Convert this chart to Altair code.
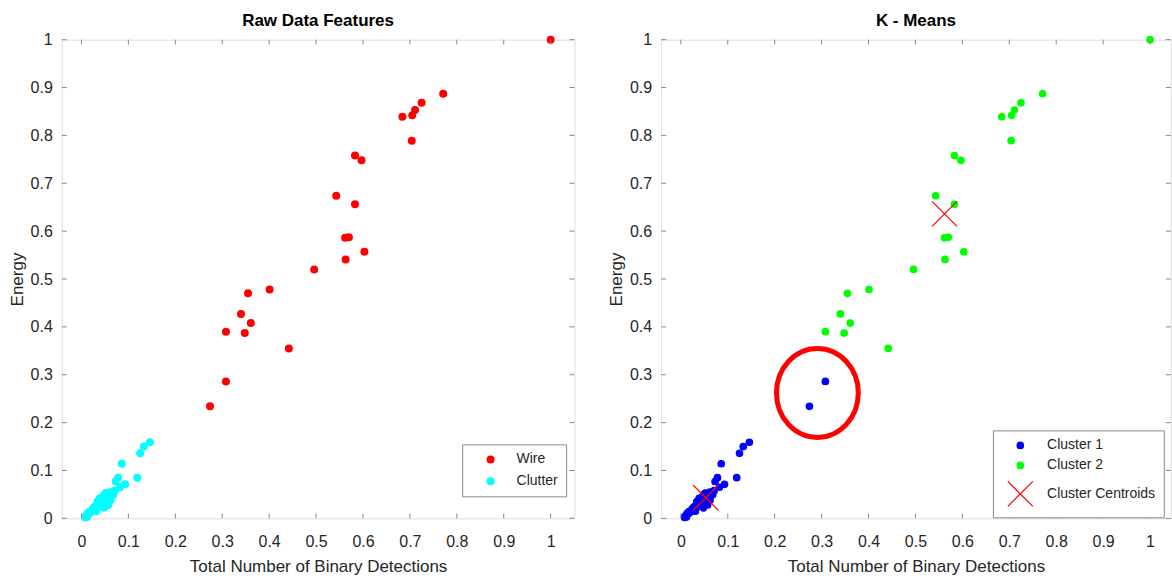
import altair as alt
import pandas as pd

# ---------------- data ----------------
wire_x = [1.000, 0.771, 0.725, 0.711, 0.705, 0.684, 0.704, 0.583, 0.597, 0.543,
          0.583, 0.562, 0.570, 0.603, 0.563, 0.496, 0.401, 0.355, 0.340, 0.361,
          0.308, 0.348, 0.442, 0.308, 0.274]
wire_y = [1.000, 0.887, 0.868, 0.853, 0.842, 0.839, 0.789, 0.758, 0.748, 0.674,
          0.656, 0.586, 0.587, 0.557, 0.541, 0.520, 0.478, 0.470, 0.427, 0.408,
          0.390, 0.387, 0.355, 0.286, 0.234]
# K-means assignment of the wire points (the last two fall in cluster 1)
wire_cluster = ["Cluster 2"] * 23 + ["Cluster 1"] * 2

clutter_x = [0.146, 0.133, 0.125, 0.086, 0.119, 0.078, 0.073, 0.093, 0.082, 0.071,
             0.066, 0.062, 0.058, 0.055, 0.052, 0.048, 0.045, 0.060, 0.064, 0.068,
             0.050, 0.054, 0.046, 0.042, 0.040, 0.036, 0.038, 0.033, 0.030, 0.028,
             0.026, 0.024, 0.021, 0.019, 0.017, 0.015, 0.013, 0.011, 0.009, 0.008,
             0.012, 0.044, 0.050, 0.056, 0.034, 0.039, 0.057, 0.062, 0.048, 0.031]
clutter_y = [0.159, 0.150, 0.136, 0.114, 0.085, 0.085, 0.077, 0.071, 0.065, 0.058,
             0.052, 0.055, 0.050, 0.047, 0.053, 0.049, 0.044, 0.044, 0.047, 0.050,
             0.040, 0.036, 0.035, 0.038, 0.032, 0.030, 0.025, 0.027, 0.022, 0.024,
             0.018, 0.020, 0.015, 0.012, 0.014, 0.009, 0.010, 0.006, 0.004, 0.002,
             0.003, 0.028, 0.030, 0.040, 0.035, 0.042, 0.028, 0.038, 0.022, 0.015]

centroid_x = [0.053, 0.562]
centroid_y = [0.043, 0.636]

highlight_x = [0.291]
highlight_y = [0.262]

tick_values = [0.0, 0.1, 0.2, 0.3, 0.4, 0.5, 0.6, 0.7, 0.8, 0.9, 1.0]

left_classes = ["Wire", "Clutter"]
left_colors = ["#ff0000", "#00ffff"]
right_groups = ["Cluster 1", "Cluster 2", "Cluster Centroids"]
right_colors = ["#0000ff", "#00ff00", "#ff0000"]
right_fills = ["#0000ff", "#00ff00", "transparent"]

# ---------------- styling ----------------
FONT = "Liberation Sans"
FRAME = "#8a8a8a"
TXT = "#262626"
W_L, W_R, H = 513, 510, 479
X_MIN = -0.042
X_PATH = "M-1,-1L1,1M-1,1L1,-1"
ELLIPSE_PATH = "M0,-1A0.92,1,0,1,1,0,1A0.92,1,0,1,1,0,-1Z"

y_scale = alt.Scale(domain=[0, 1], nice=False, zero=False)


def x_scale(width):
    return alt.Scale(domain=[X_MIN, X_MIN + width / 469.5], nice=False, zero=False)


def x_axis():
    return alt.Axis(title="Total Number of Binary Detections", values=tick_values,
                    format=".1~f", grid=False, domain=False, ticks=False, tickSize=0,
                    labelFont=FONT, labelFontSize=16, labelColor=TXT, labelPadding=15,
                    labelFlush=False, labelOverlap=False,
                    titleFont=FONT, titleFontSize=17, titleFontWeight="normal",
                    titleColor=TXT, titlePadding=9)


def y_axis():
    return alt.Axis(title="Energy", values=tick_values, format=".1~f", grid=False,
                    domain=False, ticks=False, tickSize=0,
                    labelFont=FONT, labelFontSize=16, labelColor=TXT, labelPadding=9.5,
                    labelFlush=False, labelOverlap=False,
                    titleFont=FONT, titleFontSize=17, titleFontWeight="normal",
                    titleColor=TXT, titlePadding=3.5)


def inner_ticks(width):
    tdf = pd.DataFrame({"t": tick_values})
    base = alt.Chart(tdf).mark_rule(color=FRAME, strokeWidth=1)
    xs = x_scale(width)
    bottom = base.encode(x=alt.X("t:Q", scale=xs, axis=x_axis()),
                         y=alt.value(H), y2=alt.value(H - 5))
    top = base.encode(x=alt.X("t:Q", scale=xs, axis=x_axis()),
                      y=alt.value(0), y2=alt.value(5))
    left = base.encode(y=alt.Y("t:Q", scale=y_scale, axis=y_axis()),
                       x=alt.value(0), x2=alt.value(5))
    right = base.encode(y=alt.Y("t:Q", scale=y_scale, axis=y_axis()),
                        x=alt.value(width), x2=alt.value(width - 5))
    return [bottom, top, left, right]


def title(text):
    return alt.TitleParams(text, font=FONT, fontSize=17, fontWeight="bold",
                           color="black", offset=1.5, anchor="middle")


# ---------------- left panel ----------------
left_df = pd.DataFrame({
    "x": wire_x + clutter_x,
    "y": wire_y + clutter_y,
    "cls": ["Wire"] * len(wire_x) + ["Clutter"] * len(clutter_x),
})

left_legend = alt.Legend(title=None, orient="none", legendX=400.7, legendY=405,
                         direction="vertical", fillColor="white", strokeColor=FRAME,
                         padding=8, symbolType="circle", symbolSize=64,
                         symbolOffset=13.4, labelOffset=19, rowPadding=8,
                         labelFont=FONT, labelFontSize=14, labelColor=TXT,
                         symbolOpacity=1, symbolStrokeWidth=0)

left_points = alt.Chart(left_df).mark_point(filled=True, size=64, opacity=1).encode(
    x=alt.X("x:Q", scale=x_scale(W_L), axis=x_axis()),
    y=alt.Y("y:Q", scale=y_scale, axis=y_axis()),
    color=alt.Color("cls:N", scale=alt.Scale(domain=left_classes, range=left_colors),
                    legend=left_legend),
)

left_chart = alt.layer(left_points, *inner_ticks(W_L)).properties(
    width=W_L, height=H, title=title("Raw Data Features"))

# ---------------- right panel ----------------
right_df = pd.DataFrame({
    "x": clutter_x + wire_x + centroid_x,
    "y": clutter_y + wire_y + centroid_y,
    "grp": ["Cluster 1"] * len(clutter_x) + wire_cluster
           + ["Cluster Centroids"] * len(centroid_x),
})


def right_legend():
    return alt.Legend(title=None, orient="none", legendX=332, legendY=391,
                      direction="vertical", fillColor="white", strokeColor=FRAME,
                      padding=8, symbolOffset=5.9, labelOffset=13.3, rowPadding=6,
                      labelFont=FONT, labelFontSize=14, labelColor=TXT,
                      symbolOpacity=1, symbolStrokeWidth=1.2)


right_points = alt.Chart(right_df).mark_point(filled=False, opacity=1, strokeWidth=1.2).encode(
    x=alt.X("x:Q", scale=x_scale(W_R), axis=x_axis()),
    y=alt.Y("y:Q", scale=y_scale, axis=y_axis()),
    color=alt.Color("grp:N", scale=alt.Scale(domain=right_groups, range=right_colors),
                    legend=right_legend()),
    fill=alt.Fill("grp:N", scale=alt.Scale(domain=right_groups, range=right_fills),
                  legend=right_legend()),
    shape=alt.Shape("grp:N", scale=alt.Scale(domain=right_groups,
                                             range=["circle", "circle", X_PATH]),
                    legend=right_legend()),
    size=alt.Size("grp:N", scale=alt.Scale(type="ordinal", domain=right_groups,
                                           range=[42, 42, 625]),
                  legend=right_legend()),
)

highlight_df = pd.DataFrame({"x": highlight_x, "y": highlight_y})
highlight = alt.Chart(highlight_df).mark_point(
    shape=ELLIPSE_PATH, size=7921, filled=False, stroke="#ff0000", strokeWidth=5,
    opacity=1).encode(
    x=alt.X("x:Q", scale=x_scale(W_R), axis=x_axis()),
    y=alt.Y("y:Q", scale=y_scale, axis=y_axis()),
)

right_chart = alt.layer(right_points, highlight, *inner_ticks(W_R)).properties(
    width=W_R, height=H, title=title("K - Means"))

chart = alt.hconcat(left_chart, right_chart, spacing=31.8).resolve_scale(
    color="independent", fill="independent", shape="independent", size="independent"
).resolve_legend(
    color="independent", fill="independent", shape="independent", size="independent"
).properties(
    padding={"left": 7.8, "top": 11.5, "right": 0, "bottom": 0},
    background="white",
).configure_view(stroke=FRAME, strokeWidth=1).configure(font=FONT)

chart.save("out.html", embed_options={"renderer": "svg", "actions": False})
